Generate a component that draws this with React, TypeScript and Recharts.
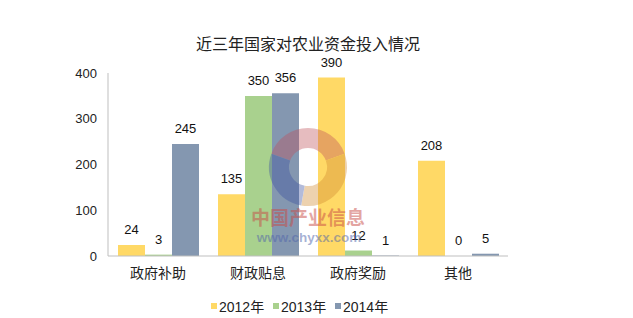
import { BarChart, Bar, XAxis, YAxis, LabelList } from 'recharts';

const categories = ['政府补助', '财政贴息', '政府奖励', '其他'];
const values2012 = [24, 135, 390, 208];
const values2013 = [3, 350, 12, 0];
const values2014 = [245, 356, 1, 5];
const yTicks = [0, 100, 200, 300, 400];

const seriesNames = ['2012年', '2013年', '2014年'];
const colors = ['#FFD966', '#A9D18E', '#8497B0'];

const data = categories.map((name, i) => ({
  name,
  y2012: values2012[i],
  y2013: values2013[i],
  y2014: values2014[i],
}));

const font = '"Liberation Sans", "Noto Sans CJK SC", sans-serif';

// label drawn by hand so zero-height bars still get their value
const renderLabel = (props: any) => {
  const { x, y, width, value } = props;
  return (
    <text x={Number(x) + Number(width) / 2} y={Number(y) - 11} textAnchor="middle" fill="#111" fontSize={13} fontFamily={font}>
      {value}
    </text>
  );
};

function arc(cx: number, cy: number, r: number, a0: number, a1: number) {
  const p = (a: number) => [cx + r * Math.cos((a * Math.PI) / 180), cy + r * Math.sin((a * Math.PI) / 180)];
  const [x0, y0] = p(a0);
  const [x1, y1] = p(a1);
  return `M${x0},${y0} A${r},${r} 0 ${a1 - a0 > 180 ? 1 : 0} 1 ${x1},${y1}`;
}

export default function App() {
  const keys = ['y2012', 'y2013', 'y2014'];
  return (
    <div style={{ position: 'absolute', left: 0, top: 0, width: 633, height: 318, background: '#fff', fontFamily: font }}>
      <div style={{ position: 'absolute', left: 0, width: 616, top: 31, textAlign: 'center', fontSize: 16, color: '#222', fontFamily: '"Noto Sans CJK SC", sans-serif' }}>
        近三年国家对农业资金投入情况
      </div>
      <div style={{ position: 'absolute', left: 0, top: 0 }}>
        <BarChart
          width={633}
          height={318}
          data={data}
          margin={{ top: 73, right: 125, left: 0, bottom: 32 }}
          barCategoryGap="10%"
          barGap={0}
        >
          <XAxis
            dataKey="name"
            axisLine={{ stroke: '#BFBFBF' }}
            tickLine={false}
            tick={{ fill: '#222', fontSize: 14, fontFamily: '"Noto Sans CJK SC", sans-serif' }}
            tickMargin={6}
            height={30}
          />
          <YAxis
            domain={[0, 400]}
            ticks={yTicks}
            width={108}
            axisLine={{ stroke: '#BFBFBF' }}
            tickLine={false}
            tickSize={0}
            tickMargin={11}
            tick={{ fill: '#222', fontSize: 13, fontFamily: font }}
          />
          {keys.map((k, i) => (
            <Bar key={k} dataKey={k} name={seriesNames[i]} fill={colors[i]} minPointSize={0.01} isAnimationActive={false}>
              <LabelList dataKey={k} content={renderLabel} />
            </Bar>
          ))}
        </BarChart>
      </div>
      {/* watermark over the bars */}
      <svg width={633} height={318} style={{ position: 'absolute', left: 0, top: 0, pointerEvents: 'none' }}>
        <g fill="none" strokeWidth={20} opacity={0.38}>
          <path d={arc(308, 167, 29, 200, 340)} stroke="#C0505A" />
          <path d={arc(308, 167, 29, -20, 100)} stroke="#D08A30" />
          <path d={arc(308, 167, 29, 100, 200)} stroke="#3A4FA0" />
        </g>
        <text x={308} y={225} textAnchor="middle" fontSize={19} fontWeight="bold" fill="rgba(200, 75, 70, 0.5)" fontFamily='"Noto Sans CJK SC", sans-serif'>
          中国产业信息
        </text>
        <text x={309} y={242} textAnchor="middle" fontSize={13.5} fontWeight="bold" fill="rgba(80, 100, 170, 0.5)" fontFamily={font}>
          www.chyxx.com
        </text>
      </svg>
      <div style={{ position: 'absolute', top: 296, left: 211, display: 'flex', fontSize: 14, color: '#222' }}>
        {seriesNames.map((n, i) => (
          <div key={n} style={{ display: 'flex', alignItems: 'center', width: 62 }}>
            <span style={{ display: 'inline-block', width: 6, height: 6, background: colors[i], marginRight: 2 }} />
            <span>{n}</span>
          </div>
        ))}
      </div>
    </div>
  );
}
